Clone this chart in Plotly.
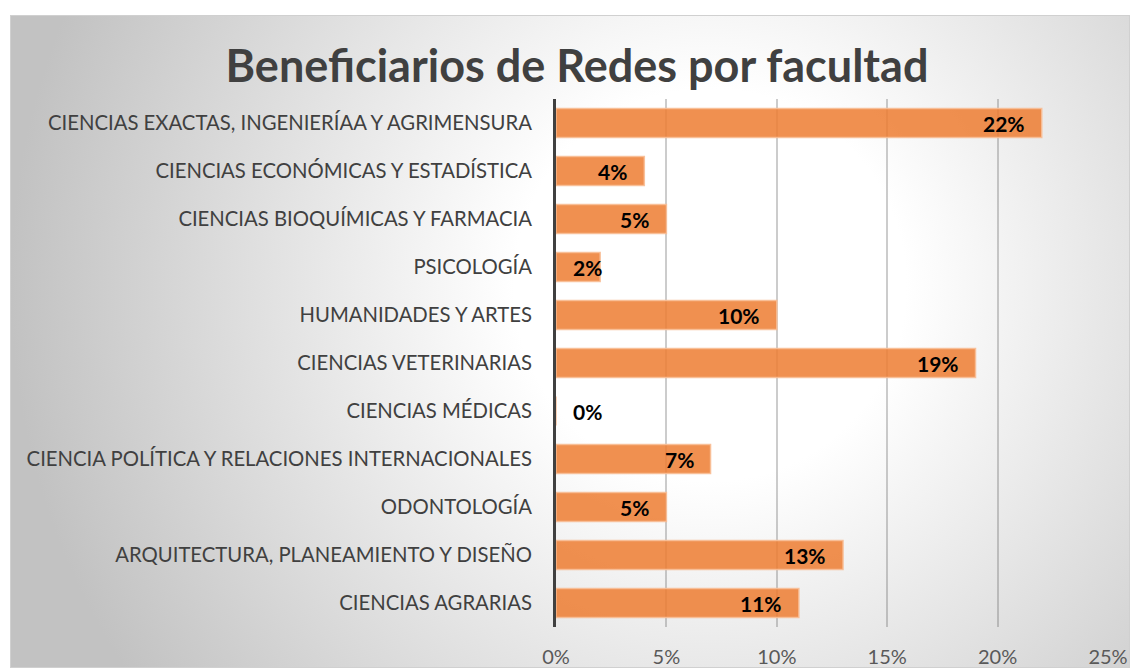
import base64
import plotly.graph_objects as go

categories = [
    "CIENCIAS EXACTAS, INGENIERÍAA Y AGRIMENSURA",
    "CIENCIAS ECONÓMICAS Y ESTADÍSTICA",
    "CIENCIAS BIOQUÍMICAS Y FARMACIA",
    "PSICOLOGÍA",
    "HUMANIDADES Y ARTES",
    "CIENCIAS VETERINARIAS",
    "CIENCIAS MÉDICAS",
    "CIENCIA POLÍTICA Y RELACIONES INTERNACIONALES",
    "ODONTOLOGÍA",
    "ARQUITECTURA, PLANEAMIENTO Y DISEÑO",
    "CIENCIAS AGRARIAS",
]
values = [0.22, 0.04, 0.05, 0.02, 0.10, 0.19, 0.00, 0.07, 0.05, 0.13, 0.11]
x_ticks = [0, 0.05, 0.10, 0.15, 0.20, 0.25]
x_tick_labels = ["0%", "5%", "10%", "15%", "20%", "25%"]
title = "Beneficiarios de Redes por facultad"

W, H = 1130, 668
L, R, T, B = 556, 22, 99, 41
pw, ph = W - L - R, H - T - B
XMAX = 0.25

svg = '''<svg xmlns="http://www.w3.org/2000/svg" width="1120" height="653" viewBox="0 0 1120 653">
<defs><radialGradient id="g" cx="700" cy="270" r="700" gradientUnits="userSpaceOnUse">
<stop offset="0" stop-color="#ffffff"/><stop offset="0.28" stop-color="#ffffff"/>
<stop offset="1" stop-color="#c2c2c2"/></radialGradient></defs>
<rect x="0" y="0" width="1120" height="653" fill="url(#g)"/>
<rect x="0.5" y="0.5" width="1119" height="652" fill="none" stroke="#d0d0d0" stroke-width="1"/>
</svg>'''
src = "data:image/svg+xml;base64," + base64.b64encode(svg.encode()).decode()


def px_to_paper_x(px):
    return (px - L) / pw


def py_to_paper_y(py):
    return (H - B - py) / ph


fig = go.Figure(go.Bar(
    y=categories,
    x=values,
    orientation="h",
    marker=dict(color="rgba(237,125,49,0.85)", line=dict(color="rgba(248,190,150,0.9)", width=1.5)),
    width=0.6,
    hoverinfo="x+y",
))

label_font = dict(family="Lato", size=21, color="#000000", weight="bold")
annotations = []
for cat, v in zip(categories, values):
    label = f"{round(v * 100)}%"
    bar_px = v / XMAX * pw
    est_w = 12 * len(label)
    if bar_px - 15 < 16 + est_w:
        annotations.append(dict(x=0, y=cat, xref="x", yref="y", text=label, showarrow=False,
                                xanchor="left", xshift=15, font=label_font))
    else:
        annotations.append(dict(x=v, y=cat, xref="x", yref="y", text=label, showarrow=False,
                                xanchor="right", xshift=-15, font=label_font))

fig.update_layout(
    width=W, height=H,
    margin=dict(l=L, r=R, t=T, b=B, pad=0, autoexpand=False),
    paper_bgcolor="#ffffff",
    plot_bgcolor="rgba(0,0,0,0)",
    showlegend=False,
    annotations=annotations,
    title=dict(text=title, x=577 / W, xanchor="center", y=1 - 66 / H, yanchor="middle",
               xref="container", yref="container",
               font=dict(family="Lato", size=45, color="#404040", weight="bold")),
    images=[dict(source=src, xref="paper", yref="paper",
                 x=px_to_paper_x(10), y=py_to_paper_y(15),
                 sizex=px_to_paper_x(W) - px_to_paper_x(10),
                 sizey=py_to_paper_y(15) - py_to_paper_y(H),
                 xanchor="left", yanchor="top", sizing="stretch", layer="below")],
    xaxis=dict(range=[0, XMAX], tickvals=x_ticks, ticktext=x_tick_labels, automargin=False,
               showgrid=True, gridcolor="rgba(110,110,110,0.35)", gridwidth=1.5,
               zeroline=False, showline=False,
               ticks="outside", ticklen=12, tickcolor="rgba(0,0,0,0)",
               tickfont=dict(family="Lato", size=20, color="#595959")),
    yaxis=dict(categoryorder="array", categoryarray=categories, autorange="reversed",
               automargin=False,
               showline=True, linecolor="#404040", linewidth=3,
               showgrid=False, zeroline=False,
               ticks="outside", ticklen=17, tickcolor="rgba(0,0,0,0)",
               tickfont=dict(family="Lato", size=20.3, color="#404040")),
    bargap=0.4,
)

fig.write_html("out.html", config={"displayModeBar": False},
               post_script="document.body.style.margin='0';document.documentElement.style.overflow='hidden';")
